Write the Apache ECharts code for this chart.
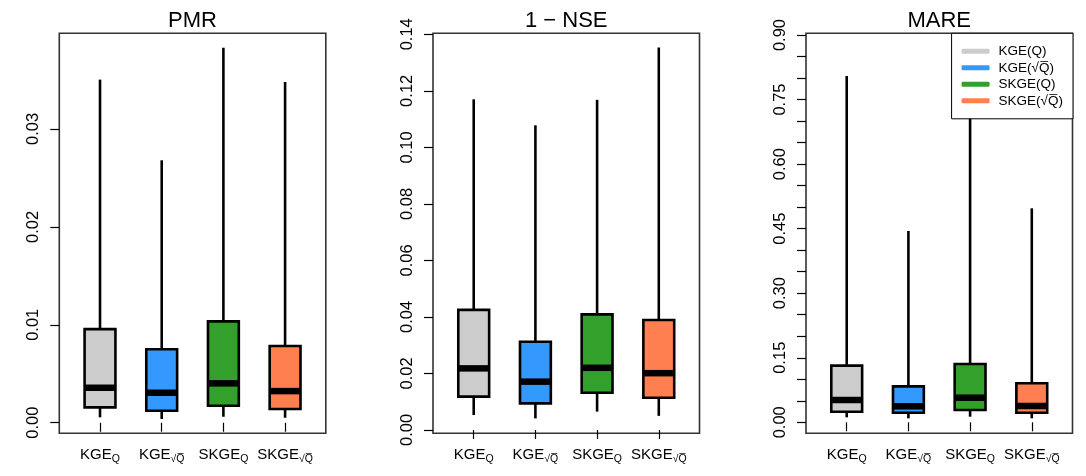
<!DOCTYPE html>
<html>
<head>
<meta charset="utf-8">
<script src="https://cdn.jsdelivr.net/npm/echarts@6/dist/echarts.min.js"></script>
<style>html,body{margin:0;padding:0;background:#fff}#c{width:1086px;height:476px}</style>
</head>
<body>
<div id="c"></div>
<script>
// ---- data ----
var categories = ['KGE_Q', 'KGE_sqrtQ', 'SKGE_Q', 'SKGE_sqrtQ'];
var legendNames = ['KGE(Q)', 'KGE(\u221AQ\u0305)', 'SKGE(Q)', 'SKGE(\u221AQ\u0305)'];
var panelTitles = ['PMR', '1 \u2212 NSE', 'MARE'];
// each row: [lower whisker, Q1, median, Q3, upper whisker]
var pmrStats = [
  [0.00055, 0.00157, 0.00357, 0.00956, 0.03504],
  [0.00038, 0.00122, 0.00306, 0.00750, 0.02680],
  [0.00061, 0.00173, 0.00402, 0.01035, 0.03830],
  [0.00051, 0.00140, 0.00323, 0.00783, 0.03480]
];
var nseStats = [
  [0.0053, 0.0118, 0.0218, 0.0425, 0.1170],
  [0.0041, 0.0094, 0.0171, 0.0312, 0.1078],
  [0.0065, 0.0132, 0.0220, 0.0409, 0.1168],
  [0.0050, 0.0114, 0.0201, 0.0389, 0.1353]
];
var mareStats = [
  [0.0116, 0.0246, 0.0518, 0.1316, 0.8048],
  [0.0093, 0.0222, 0.0372, 0.0835, 0.4446],
  [0.0130, 0.0286, 0.0572, 0.1355, 0.8696],
  [0.0093, 0.0223, 0.0379, 0.0906, 0.4973]
];
var pmrTicks = [0, 0.01, 0.02, 0.03];
var nseTicks = [0, 0.02, 0.04, 0.06, 0.08, 0.10, 0.12, 0.14];
var mareTicks = [0, 0.05, 0.10, 0.15, 0.20, 0.25, 0.30, 0.35, 0.40, 0.45, 0.50, 0.55, 0.60, 0.65, 0.70, 0.75, 0.80, 0.85, 0.90];
var mareLabels = [0, 0.15, 0.30, 0.45, 0.60, 0.75, 0.90];
var colors = ['#CCCCCC', '#3399FF', '#33A02C', '#FF7F50'];

// ---- layout ----
var FONT = '"Liberation Sans", Arial, Helvetica, sans-serif';
var panels = [
  { stats: pmrStats, ticks: pmrTicks, labels: pmrTicks, min: -0.00108, max: 0.03977, dec: 2, left: 59.3 },
  { stats: nseStats, ticks: nseTicks, labels: nseTicks, min: -0.00117, max: 0.14035, dec: 2, left: 433 },
  { stats: mareStats, ticks: mareTicks, labels: mareLabels, min: -0.02556, max: 0.904, dec: 2, left: 806 }
];
var GW = 266.5, GT = 33.3, GH = 400;

function catLabel(v) {
  var i = Math.round(v) - 1;
  var c = categories[i];
  if (!c) return '';
  var parts = c.split('_');
  var sub = parts[1] === 'Q' ? 'Q' : '\u221AQ\u0305';
  return '{m|' + parts[0] + '}{s|' + sub + '}';
}

function renderBox(params, api) {
  var x = api.value(0);
  var lo = api.coord([x, api.value(1)]);
  var q1 = api.coord([x, api.value(2)]);
  var md = api.coord([x, api.value(3)]);
  var q3 = api.coord([x, api.value(4)]);
  var hi = api.coord([x, api.value(5)]);
  var hw = api.size([0.5, 0])[0] / 2;
  var cx = lo[0];
  var color = api.visual('color');
  return {
    type: 'group',
    children: [
      { type: 'line', shape: { x1: cx, y1: hi[1], x2: cx, y2: q3[1] }, style: { stroke: '#000', lineWidth: 2.6 } },
      { type: 'line', shape: { x1: cx, y1: q1[1], x2: cx, y2: lo[1] }, style: { stroke: '#000', lineWidth: 2.6 } },
      { type: 'rect', shape: { x: cx - hw, y: q3[1], width: 2 * hw, height: q1[1] - q3[1] },
        style: { fill: color, stroke: '#000', lineWidth: 2.6 } },
      { type: 'line', shape: { x1: cx - hw, y1: md[1], x2: cx + hw, y2: md[1] }, style: { stroke: '#000', lineWidth: 6.5 } }
    ]
  };
}

var grids = [], xAxes = [], yAxes = [], series = [], titles = [];
panels.forEach(function (p, pi) {
  grids.push({ left: p.left, top: GT, width: GW, height: GH, show: true, borderColor: '#333', borderWidth: 1.6, backgroundColor: 'transparent' });
  titles.push({ text: panelTitles[pi], left: p.left + GW / 2, top: 10, textAlign: 'center', padding: 0,
    textStyle: { fontFamily: FONT, fontSize: 22, fontWeight: 'normal', color: '#000' } });
  xAxes.push({
    type: 'value', gridIndex: pi, min: 0.34, max: 4.66,
    axisLine: { show: false }, splitLine: { show: false },
    axisTick: { show: true, length: 9, customValues: [1, 2, 3, 4], lineStyle: { color: '#000', width: 1.2 } },
    axisLabel: {
      show: true, margin: 12, customValues: [1, 2, 3, 4], formatter: catLabel,
      rich: {
        m: { fontFamily: FONT, fontSize: 15, color: '#000' },
        s: { fontFamily: FONT, fontSize: 10.5, color: '#000', padding: [8, 0, 0, 0] }
      }
    }
  });
  yAxes.push({
    type: 'value', gridIndex: pi, min: p.min, max: p.max,
    axisLine: { show: false }, splitLine: { show: false },
    axisTick: { show: true, length: 9, customValues: p.ticks, lineStyle: { color: '#000', width: 1.2 } },
    axisLabel: {
      show: true, rotate: 90, margin: 17, customValues: p.labels,
      fontFamily: FONT, fontSize: 16.5, color: '#000',
      formatter: function (v) { return Number(v).toFixed(p.dec); }
    }
  });
  p.stats.forEach(function (row, ci) {
    series.push({
      type: 'custom', name: legendNames[ci], xAxisIndex: pi, yAxisIndex: pi,
      itemStyle: { color: colors[ci] },
      renderItem: renderBox,
      encode: { x: 0, y: [1, 2, 3, 4, 5] },
      data: [[ci + 1].concat(row)],
      z: 2
    });
  });
});

var chart = echarts.init(document.getElementById('c'), null, { renderer: 'canvas' });
chart.setOption({
  animation: false,
  backgroundColor: '#fff',
  title: titles,
  grid: grids,
  xAxis: xAxes,
  yAxis: yAxes,
  legend: {
    orient: 'vertical', right: 13, top: 33.3,
    selectedMode: false,
    backgroundColor: '#fff', borderColor: '#000', borderWidth: 1, borderRadius: 0,
    padding: [11, 10, 11, 10], itemGap: 2.5,
    icon: 'roundRect', itemWidth: 28, itemHeight: 5,
    textStyle: { fontFamily: FONT, fontSize: 13.5, color: '#000', padding: [0, 0, 0, 4] },
    data: legendNames.map(function (n, i) { return { name: n, itemStyle: { color: colors[i] } }; }),
    z: 10
  },
  series: series
});
</script>
</body>
</html>
